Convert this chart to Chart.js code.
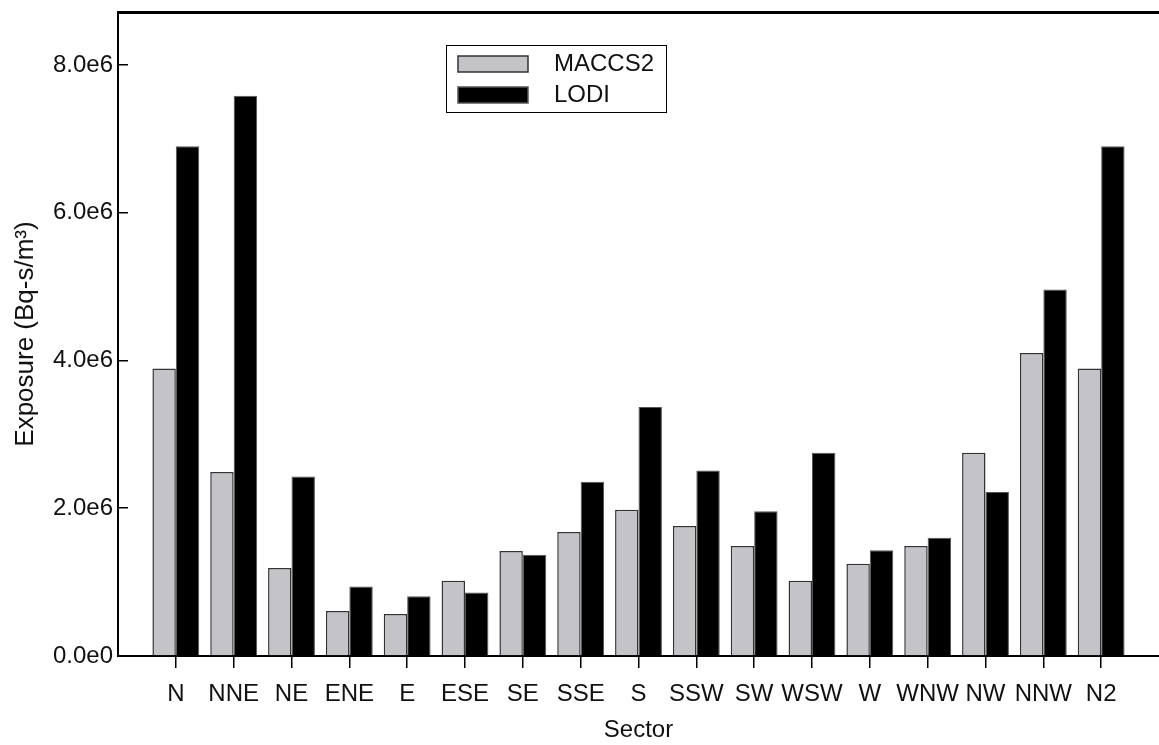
<!DOCTYPE html>
<html>
<head>
<meta charset="utf-8">
<script src="https://cdn.jsdelivr.net/npm/chart.js@4/dist/chart.umd.min.js"></script>
<style>
  body { margin: 0; background: #fff; }
  canvas { display: block; }
</style>
</head>
<body>
<canvas id="myChart" width="1159" height="745"></canvas>
<script>
const sectors = ["N", "NNE", "NE", "ENE", "E", "ESE", "SE", "SSE", "S", "SSW", "SW", "WSW", "W", "WNW", "NW", "NNW", "N2"];
const maccs2 = [3.89e6, 2.49e6, 1.19e6, 0.61e6, 0.57e6, 1.02e6, 1.42e6, 1.68e6, 1.98e6, 1.76e6, 1.49e6, 1.02e6, 1.25e6, 1.49e6, 2.75e6, 4.10e6, 3.89e6];
const lodi = [6.90e6, 7.585e6, 2.43e6, 0.94e6, 0.81e6, 0.86e6, 1.37e6, 2.36e6, 3.37e6, 2.51e6, 1.96e6, 2.75e6, 1.43e6, 1.60e6, 2.22e6, 4.96e6, 6.90e6];
const yTicks = [0, 2e6, 4e6, 6e6, 8e6];

const FONT = "'Liberation Sans', Arial, sans-serif";
const toPoints = (arr) => arr.map((v, i) => ({ x: i, y: v }));

// legend box drawn inside the plot, like the original
const boxLegend = {
  id: "boxLegend",
  afterDraw(chart) {
    const ctx = chart.ctx;
    const x0 = 446, y0 = 45, w = 220, h = 67;
    ctx.save();
    ctx.fillStyle = "#fff";
    ctx.fillRect(x0, y0, w, h);
    ctx.strokeStyle = "#000";
    ctx.lineWidth = 1;
    ctx.strokeRect(x0 + 0.5, y0 + 0.5, w, h);
    ctx.font = "24px " + FONT;
    ctx.textBaseline = "middle";
    chart.data.datasets.forEach((ds, i) => {
      const yy = y0 + 11 + i * 31;
      ctx.fillStyle = ds.backgroundColor;
      ctx.fillRect(x0 + 12, yy, 70, 16);
      ctx.strokeStyle = ds.borderColor;
      ctx.lineWidth = 1.5;
      ctx.strokeRect(x0 + 12, yy, 70, 16);
      ctx.fillStyle = "#111";
      ctx.fillText(ds.label, x0 + 108, yy + 8);
    });
    ctx.restore();
  }
};

new Chart(document.getElementById("myChart"), {
  type: "bar",
  data: {
    datasets: [
      {
        label: "MACCS2",
        data: toPoints(maccs2),
        backgroundColor: "#c4c3c7",
        borderColor: "#333",
        borderWidth: 1.5,
        xAxisID: "x",
        yAxisID: "y"
      },
      {
        label: "LODI",
        data: toPoints(lodi),
        backgroundColor: "#000",
        borderColor: "#555",
        borderWidth: 1,
        xAxisID: "x",
        yAxisID: "y"
      }
    ]
  },
  options: {
    responsive: false,
    animation: false,
    layout: { padding: { left: 0, top: 12, right: 0, bottom: 0 } },
    categoryPercentage: 0.81,
    barPercentage: 1.0,
    plugins: {
      legend: { display: false },
      tooltip: { enabled: false }
    },
    scales: {
      x: {
        type: "linear",
        position: "bottom",
        min: -1,
        max: 17,
        offset: false,
        afterBuildTicks: (scale) => {
          scale.ticks = sectors.map((_, i) => ({ value: i }));
        },
        afterFit: (scale) => {
          scale.height = 89;
          scale.paddingLeft = 0;
          scale.paddingRight = 0;
        },
        grid: { display: true, offset: false, drawOnChartArea: false, drawTicks: true, tickLength: 12, color: "#000", lineWidth: 1.5 },
        border: { display: true, color: "#000", width: 2 },
        ticks: {
          autoSkip: false,
          maxRotation: 0,
          padding: 12,
          color: "#111",
          font: { family: FONT, size: 24 },
          callback: (v) => sectors[v] ?? ""
        },
        title: {
          display: true,
          text: "Sector",
          color: "#111",
          font: { family: FONT, size: 24 },
          padding: { top: 0, bottom: 0 }
        }
      },
      xTop: {
        type: "linear",
        position: "top",
        min: -1,
        max: 17,
        offset: false,
        afterFit: (scale) => {
          scale.height = 0;
          scale.paddingLeft = 0;
          scale.paddingRight = 0;
        },
        grid: { display: false, drawTicks: false },
        ticks: { display: false },
        border: { display: true, color: "#000", width: 3 }
      },
      y: {
        min: 0,
        max: 8.717e6,
        afterFit: (scale) => {
          scale.width = 118;
          scale.paddingTop = 0;
          scale.paddingBottom = 0;
        },
        afterBuildTicks: (scale) => {
          scale.ticks = yTicks.map((v) => ({ value: v }));
        },
        grid: { display: true, drawOnChartArea: false, drawTicks: true, tickLength: -10, color: "#000", lineWidth: 1.5 },
        border: { display: true, color: "#000", width: 2 },
        ticks: {
          padding: 15,
          color: "#111",
          font: { family: FONT, size: 24 },
          callback: (v) => Number(v).toExponential(1).replace("+", "")
        },
        title: {
          display: true,
          text: "Exposure (Bq-s/m³)",
          color: "#111",
          font: { family: FONT, size: 26 },
          padding: { top: 10, bottom: 0 }
        }
      }
    }
  },
  plugins: [boxLegend]
});
</script>
</body>
</html>
